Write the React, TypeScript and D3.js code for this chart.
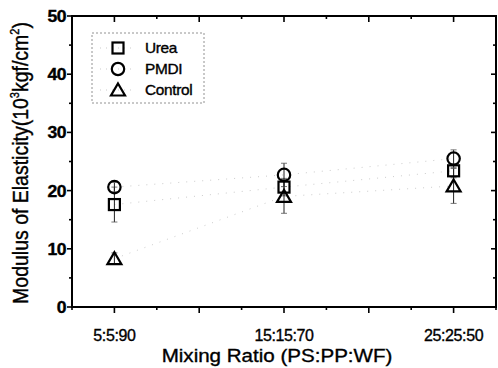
import { useEffect, useRef } from "react";
import * as d3 from "d3";

const categories = ["5:5:90", "15:15:70", "25:25:50"];
const ureaValues = [17.6, 20.6, 23.4];
const ureaErrors = [3.0, 1.5, 1.2];
const pmdiValues = [20.6, 22.7, 25.5];
const pmdiErrors = [0.8, 2.0, 1.5];
const controlValues = [8.3, 19.0, 20.8];
const controlErrors = [1.0, 2.9, 3.0];
const yTicks = [0, 10, 20, 30, 40, 50];
const yMinorTicks = [5, 15, 25, 35, 45];
const xMajorTicks = [0, 0.5, 1, 1.5, 2];
const xMinorTicks = [-0.25, 0.25, 0.75, 1.25, 1.75, 2.25];

const series = [
  { label: "Urea", symbol: "square", values: ureaValues, errors: ureaErrors },
  { label: "PMDI", symbol: "circle", values: pmdiValues, errors: pmdiErrors },
  { label: "Control", symbol: "triangle", values: controlValues, errors: controlErrors },
];

const FONT = "'Liberation Sans', Arial, sans-serif";
// the scanned figure is a bit wider than it is tall
const STRETCH = 1.1;

export default function App() {
  const svgRef = useRef<SVGSVGElement>(null);
  const width = 498;
  const height = 368;

  useEffect(() => {
    document.body.style.margin = "0";
    if (!svgRef.current) return;
    const svg = d3.select(svgRef.current);
    svg.selectAll("*").remove();

    const left = 72;
    const right = 496;
    const top = 16;
    const bottom = 307;

    const x = d3.scaleLinear().domain([-0.25, 2.25]).range([left, right]);
    const y = d3.scaleLinear().domain([0, 50]).range([bottom, top]);

    svg.append("rect").attr("width", width).attr("height", height).attr("fill", "#fff");

    // faint connecting lines
    const line = d3
      .line<number>()
      .x((_, i) => x(i))
      .y((d) => y(d));
    series.forEach((s) => {
      svg
        .append("path")
        .attr("d", line(s.values))
        .attr("fill", "none")
        .attr("stroke", "#9a9a9a")
        .attr("stroke-opacity", 0.5)
        .attr("stroke-width", 1)
        .attr("stroke-dasharray", "1,7");
    });

    // error bars
    series.forEach((s) => {
      s.values.forEach((v, i) => {
        const cx = x(i);
        const y0 = y(v - s.errors[i]);
        const y1 = y(v + s.errors[i]);
        svg
          .append("line")
          .attr("x1", cx)
          .attr("x2", cx)
          .attr("y1", y0)
          .attr("y2", y1)
          .attr("stroke", "#222")
          .attr("stroke-width", 1);
        [y0, y1].forEach((yy) => {
          svg
            .append("line")
            .attr("x1", cx - 3)
            .attr("x2", cx + 3)
            .attr("y1", yy)
            .attr("y2", yy)
            .attr("stroke", "#555")
            .attr("stroke-width", 0.8);
        });
      });
    });

    const drawSymbol = (
      g: d3.Selection<SVGGElement, unknown, null, undefined>,
      symbol: string,
      cx: number,
      cy: number,
    ) => {
      if (symbol === "square") {
        g.append("rect")
          .attr("x", cx - 5.5)
          .attr("y", cy - 5.5)
          .attr("width", 11)
          .attr("height", 11)
          .attr("fill", "none")
          .attr("stroke", "#000")
          .attr("stroke-width", 2.2);
      } else if (symbol === "circle") {
        g.append("circle")
          .attr("cx", cx)
          .attr("cy", cy)
          .attr("r", 6.2)
          .attr("fill", "none")
          .attr("stroke", "#000")
          .attr("stroke-width", 2.2);
      } else {
        g.append("path")
          .attr("d", `M${cx},${cy - 6.5}L${cx + 7},${cy + 5.5}L${cx - 7},${cy + 5.5}Z`)
          .attr("fill", "none")
          .attr("stroke", "#000")
          .attr("stroke-width", 2.2)
          .attr("stroke-linejoin", "miter");
      }
    };

    const marks = svg.append("g");
    series.forEach((s) => {
      s.values.forEach((v, i) => drawSymbol(marks, s.symbol, x(i), y(v)));
    });

    // axes
    const axisColor = "#000";
    const frame = svg.append("g");
    frame
      .append("rect")
      .attr("x", left)
      .attr("y", top)
      .attr("width", right - left)
      .attr("height", bottom - top)
      .attr("fill", "none")
      .attr("stroke", axisColor)
      .attr("stroke-width", 2);

    const tick = (x1: number, y1: number, x2: number, y2: number, w = 1.6) =>
      frame
        .append("line")
        .attr("x1", x1)
        .attr("y1", y1)
        .attr("x2", x2)
        .attr("y2", y2)
        .attr("stroke", axisColor)
        .attr("stroke-width", w);

    yTicks.forEach((t) => {
      tick(left - 5, y(t), left, y(t));
      tick(right, y(t), right - 5, y(t));
    });
    yMinorTicks.forEach((t) => {
      tick(left - 3, y(t), left, y(t));
      tick(right, y(t), right - 3, y(t));
    });
    xMajorTicks.forEach((t) => {
      tick(x(t), bottom, x(t), bottom + 6);
      tick(x(t), top, x(t), top + 6);
    });
    xMinorTicks.forEach((t) => {
      tick(x(t), bottom, x(t), bottom + 3);
      tick(x(t), top, x(t), top + 3);
    });

    const heavy = (sel: d3.Selection<SVGTextElement, unknown, null, undefined>) =>
      sel
        .attr("font-family", FONT)
        .attr("fill", "#000")
        .attr("stroke", "#000")
        .attr("stroke-width", 0.35);

    // tick labels
    yTicks.forEach((t) => {
      heavy(
        svg
          .append("text")
          .attr("transform", `translate(${left - 6},${y(t) + 6}) scale(${STRETCH},1)`)
          .attr("text-anchor", "end")
          .attr("font-size", "16px")
          .attr("font-weight", "bold")
          .attr("letter-spacing", "-0.5px")
          .text(t),
      );
    });
    categories.forEach((c, i) => {
      heavy(
        svg
          .append("text")
          .attr("x", x(i))
          .attr("y", 341)
          .attr("text-anchor", "middle")
          .attr("font-size", "16px")
          .attr("letter-spacing", "-0.4px")
          .text(c),
      );
    });

    // axis titles
    heavy(
      svg
        .append("text")
        .attr("transform", `translate(277,361.5) scale(${STRETCH},1)`)
        .attr("text-anchor", "middle")
        .attr("font-size", "18.7px")
        .text("Mixing Ratio (PS:PP:WF)"),
    );

    const yTitle = heavy(
      svg
        .append("text")
        .attr("transform", `translate(28,163) scale(${STRETCH},1) rotate(-90)`)
        .attr("text-anchor", "middle")
        .attr("font-size", "19.5px"),
    );
    yTitle.append("tspan").text("Modulus of Elasticity(10");
    yTitle.append("tspan").attr("font-size", "11px").attr("dy", "-8").text("3");
    yTitle.append("tspan").attr("dy", "8").text("kgf/cm");
    yTitle.append("tspan").attr("font-size", "11px").attr("dy", "-8").text("2");
    yTitle.append("tspan").attr("dy", "8").text(")");

    // legend
    const legend = svg.append("g");
    legend
      .append("rect")
      .attr("x", 92)
      .attr("y", 33)
      .attr("width", 112)
      .attr("height", 70)
      .attr("fill", "#fff")
      .attr("stroke", "#777")
      .attr("stroke-width", 0.8)
      .attr("stroke-dasharray", "2,2");
    series.forEach((s, i) => {
      const ly = 48 + i * 21;
      legend
        .append("line")
        .attr("x1", 100)
        .attr("x2", 136)
        .attr("y1", ly)
        .attr("y2", ly)
        .attr("stroke", "#9a9a9a")
        .attr("stroke-opacity", 0.5)
        .attr("stroke-dasharray", "1,5");
      drawSymbol(legend, s.symbol, 118, ly);
      heavy(
        legend
          .append("text")
          .attr("transform", `translate(145,${ly + 5}) scale(${STRETCH},1)`)
          .attr("font-size", "14px")
          .attr("letter-spacing", "-0.3px")
          .text(s.label),
      );
    });
  }, []);

  return <svg ref={svgRef} width={width} height={height} style={{ display: "block" }} />;
}
